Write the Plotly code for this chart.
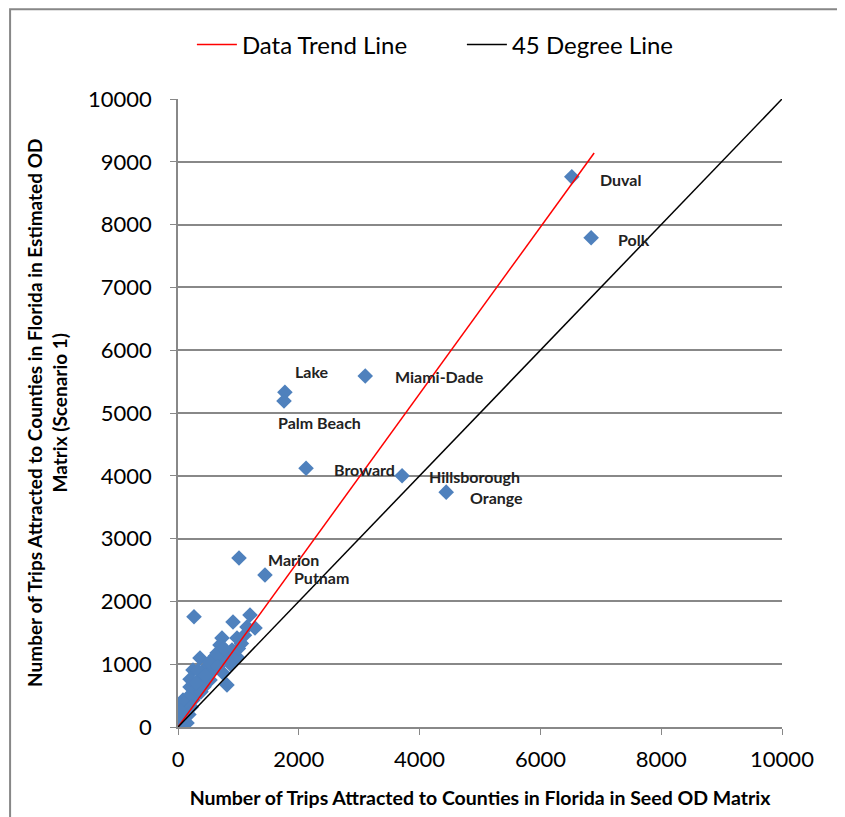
import plotly.graph_objects as go

# labelled counties (seed OD trips, estimated OD trips)
county_names = ["Duval", "Polk", "Lake", "Palm Beach", "Miami-Dade", "Broward",
                "Hillsborough", "Orange", "Marion", "Putnam"]
county_seed = [6520, 6840, 1770, 1755, 3100, 2120, 3710, 4440, 1010, 1440]
county_est = [8760, 7790, 5330, 5190, 5590, 4120, 4000, 3740, 2690, 2420]
# label offsets in px from each point
label_dx = [49, 43, 27, 35, 74, 58, 72, 50, 54, 57]
label_dy = [-3, -2, 21, -21, -1, -1, -1, -5, -1, -2]

# unlabelled counties
other_seed = [265, 911, 1192, 1142, 1275, 728, 695, 894, 977, 811, 364, 579, 248, 414,
              745, 811, 530, 199, 364, 83, 248, 33, 149, 10, 83, 20, 149, 40, 977, 646,
              480, 315, 560, 700, 430, 120, 290, 60, 1050, 1000, 620, 520, 330, 200,
              450, 380, 160, 100, 220, 660, 870, 1100, 760, 300, 50, 180]
other_est = [1755, 1672, 1783, 1592, 1576, 1417, 1306, 1226, 1115, 1099, 1099, 987, 908, 796,
             860, 669, 748, 637, 589, 430, 430, 271, 318, 150, 143, 80, 64, 20, 1417, 1178,
             955, 717, 880, 1050, 640, 220, 520, 110, 1330, 1250, 1130, 1030, 900, 760,
             820, 560, 470, 380, 320, 960, 1000, 1460, 1250, 700, 250, 200]

trend_x = [0, 6890]
trend_y = [0, 9140]
diag_x = [0, 10000]
diag_y = [0, 10000]

blue = "#4F81BD"
font = "Lato, 'Open Sans', sans-serif"

fig = go.Figure()
fig.add_trace(go.Scatter(x=other_seed + county_seed, y=other_est + county_est, mode="markers",
                         marker=dict(symbol="diamond", size=12, color=blue),
                         showlegend=False, hoverinfo="x+y"))
fig.add_trace(go.Scatter(x=trend_x, y=trend_y, mode="lines", name="Data Trend Line",
                         line=dict(color="#FF0000", width=1.5)))
fig.add_trace(go.Scatter(x=diag_x, y=diag_y, mode="lines", name="45 Degree Line",
                         line=dict(color="#000000", width=1.5)))

for name, sx, ey, dx, dy in zip(county_names, county_seed, county_est, label_dx, label_dy):
    fig.add_annotation(x=sx, y=ey, text=f"<b>{name}</b>", showarrow=False,
                       xshift=dx, yshift=dy, font=dict(size=16, color="#222222", family=font))

# y axis title (two lines)
fig.add_annotation(xref="paper", yref="paper", x=-0.217, y=0.5, xanchor="center", yanchor="middle",
                   textangle=-90,
                   text="<b>Number of Trips Attracted to Counties in Florida in Estimated OD<br>Matrix (Scenario 1)</b>",
                   showarrow=False, font=dict(size=19, family=font))

# chart border
fig.add_shape(type="rect", xref="paper", yref="paper", x0=-0.278, x1=1.13, y0=-0.18, y1=1.143,
              line=dict(color="#878787", width=2), layer="below")

fig.update_layout(
    width=845, height=817,
    margin=dict(l=170, r=71, t=91, b=98),
    plot_bgcolor="white", paper_bgcolor="white",
    font=dict(family=font, color="#000000"),
    legend=dict(orientation="h", x=0.023, xanchor="left", y=1.086, yanchor="middle",
                font=dict(size=24), itemwidth=40, entrywidth=215),
)
fig.update_xaxes(range=[0, 10000], tickvals=[0, 2000, 4000, 6000, 8000, 10000], tickformat="d",
                 showgrid=False, zeroline=False, showline=True, linecolor="#888888", linewidth=1.5,
                 ticks="outside", ticklen=6, tickcolor="#888888", tickfont=dict(size=22),
                 ticklabelstandoff=6,
                 title=dict(text="<b>Number of Trips Attracted to Counties in Florida in Seed OD Matrix</b>",
                            font=dict(size=19.5), standoff=20))
fig.update_yaxes(range=[0, 10000], dtick=1000, tickformat="d", showgrid=True, gridcolor="#888888", gridwidth=1.5,
                 zeroline=False, showline=True, linecolor="#888888", linewidth=1.5,
                 ticks="outside", ticklen=6, tickcolor="#888888", tickfont=dict(size=22),
                 ticklabelstandoff=14)

fig.write_html("out.html")
